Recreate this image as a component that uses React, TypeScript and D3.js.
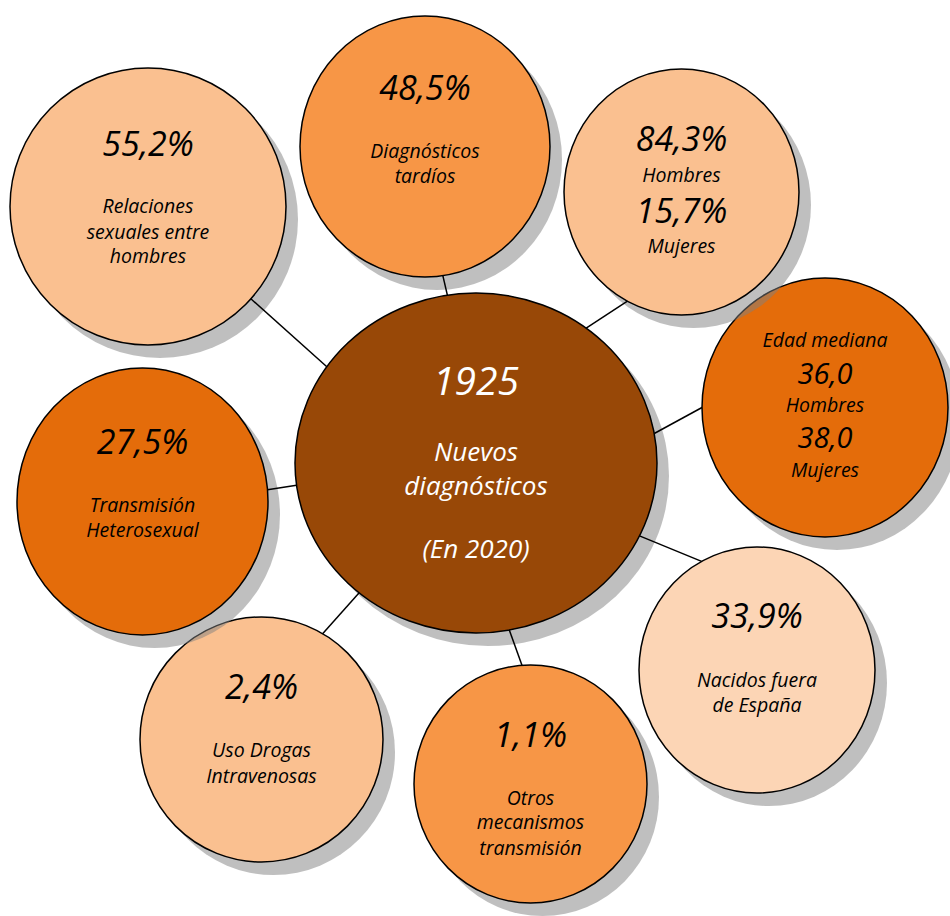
import React, { useEffect, useRef } from "react";
import * as d3 from "d3";

// ---- data ----
const nodeIds = ["msm", "late", "sex", "age", "hetero", "idu", "other", "born", "center"];
const fillColors = ["#FAC090", "#F79646", "#FAC090", "#E46C0A", "#E46C0A", "#FAC090", "#F79646", "#FCD5B5", "#984807"];
// text lines per node: [text, kind]
const nodeTexts: [string, string][][] = [
  [["55,2%", "big"], ["Relaciones", "small"], ["sexuales entre", "small"], ["hombres", "small"]],
  [["48,5%", "big"], ["Diagnósticos", "small"], ["tardíos", "small"]],
  [["84,3%", "big"], ["Hombres", "small"], ["15,7%", "big"], ["Mujeres", "small"]],
  [["Edad mediana", "small"], ["36,0", "mid"], ["Hombres", "small"], ["38,0", "mid"], ["Mujeres", "small"]],
  [["27,5%", "big"], ["Transmisión", "small"], ["Heterosexual", "small"]],
  [["2,4%", "big"], ["Uso Drogas", "small"], ["Intravenosas", "small"]],
  [["1,1%", "big"], ["Otros", "small"], ["mecanismos", "small"], ["transmisión", "small"]],
  [["33,9%", "big"], ["Nacidos fuera", "small"], ["de España", "small"]],
  [["1925", "cbig"], ["Nuevos", "csmall"], ["diagnósticos", "csmall"], ["(En 2020)", "csmall"]],
];

// ---- layout (ellipse geometry, text baselines offsets, connector angles) ----
const nodeCx = [148, 425, 681.5, 825, 142.5, 261.5, 530.5, 757, 476];
const nodeCy = [206.5, 146.5, 192, 407.5, 501.5, 739.5, 784, 670, 463];
const nodeRx = [138, 125, 117.5, 123, 125.5, 121.5, 116.5, 118, 181];
const nodeRy = [138.5, 130.5, 123, 129.5, 133.5, 122.5, 119, 123, 170];
const textOffsets = [
  [-50.5, 6.5, 32.5, 56.5],
  [-46.5, 11.5, 36.5],
  [-41, -10, 31, 61],
  [-60.5, -23.5, 4.5, 40.5, 69.5],
  [-47.5, 10.5, 35.5],
  [-40.5, 17.5, 43.5],
  [-37, 21, 45, 71],
  [-42, 17, 42],
  [-68, -2, 32, 95],
];
// connector: angle on outer node, angle on central node (degrees, svg coords)
const outerAngles = [41.8, 81.8, 117.4, 180, 355, 300.2, 265.8, 242];
const centerAngles = [214.5, 260.9, 307.5, 350, 172.5, 130.2, 79.4, 25.4];
// drawing order of outer nodes (later drawn on top)
const drawOrder = [8, 7, 6, 5, 4, 0, 1, 3, 2];

const fontSizes: Record<string, number> = { big: 34, mid: 29, small: 19.5, cbig: 39, csmall: 26 };

export default function App() {
  const ref = useRef<SVGSVGElement>(null);
  useEffect(() => {
    document.body.style.margin = "0";
    const svg = d3.select(ref.current);
    svg.selectAll("*").remove();
    const toRad = (a: number) => (a * Math.PI) / 180;
    const pt = (i: number, a: number) => [nodeCx[i] + nodeRx[i] * Math.cos(toRad(a)), nodeCy[i] + nodeRy[i] * Math.sin(toRad(a))];

    const gNodes = svg.append("g");
    drawOrder.forEach((i) => {
      const g = gNodes.append("g");
      g.append("ellipse")
        .attr("cx", nodeCx[i] + 12)
        .attr("cy", nodeCy[i] + 13)
        .attr("rx", nodeRx[i])
        .attr("ry", nodeRy[i])
        .attr("fill", "#808080")
        .attr("fill-opacity", 0.5);
      g.append("ellipse")
        .attr("cx", nodeCx[i])
        .attr("cy", nodeCy[i])
        .attr("rx", nodeRx[i])
        .attr("ry", nodeRy[i])
        .attr("fill", fillColors[i])
        .attr("stroke", "#000")
        .attr("stroke-width", 1.5);
      const isCenter = nodeIds[i] === "center";
      nodeTexts[i].forEach(([t, kind], k) => {
        g.append("text")
          .attr("x", nodeCx[i])
          .attr("y", nodeCy[i] + textOffsets[i][k])
          .attr("text-anchor", "middle")
          .attr("font-family", "'Open Sans', Lato, sans-serif")
          .attr("font-style", "italic")
          .attr("font-size", fontSizes[kind])
          .attr("fill", isCenter ? "#ffffff" : "#000000")
          .text(t);
      });
    });

    const line = d3.line();
    const gLines = svg.append("g");
    outerAngles.forEach((a, i) => {
      gLines.append("path")
        .attr("d", line([pt(i, a) as [number, number], pt(8, centerAngles[i]) as [number, number]]))
        .attr("stroke", "#000")
        .attr("stroke-width", 1.5)
        .attr("fill", "none");
    });
  }, []);
  return <svg ref={ref} width={950} height={916} style={{ display: "block", background: "#fff" }} />;
}
